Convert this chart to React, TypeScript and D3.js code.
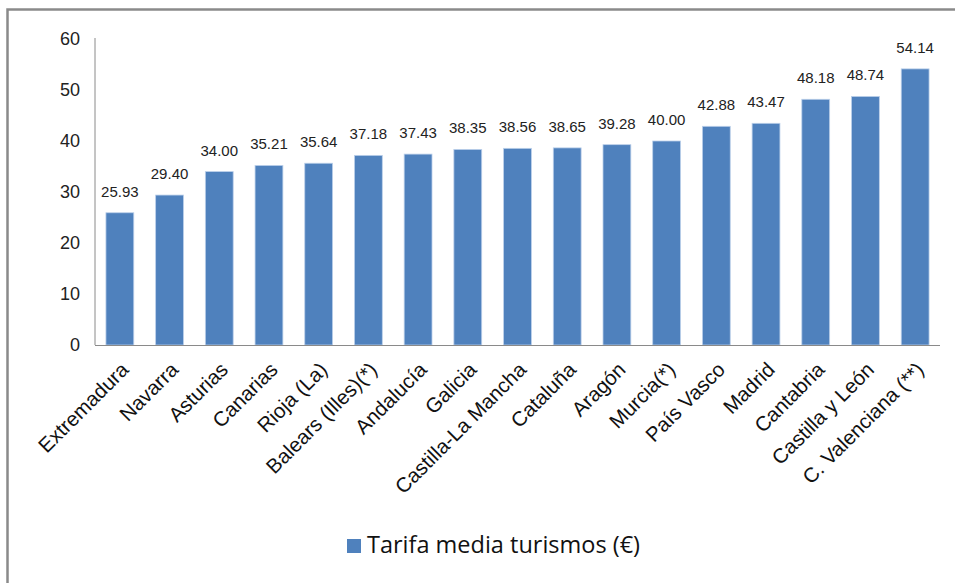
import React from "react";
import * as d3 from "d3";

const categories = [
  "Extremadura", "Navarra", "Asturias", "Canarias", "Rioja (La)", "Balears (Illes)(*)",
  "Andalucía", "Galicia", "Castilla-La Mancha", "Cataluña", "Aragón", "Murcia(*)",
  "País Vasco", "Madrid", "Cantabria", "Castilla y León", "C. Valenciana (**)",
];
const values = [25.93, 29.4, 34.0, 35.21, 35.64, 37.18, 37.43, 38.35, 38.56, 38.65, 39.28, 40.0, 42.88, 43.47, 48.18, 48.74, 54.14];
const yTicks = [0, 10, 20, 30, 40, 50, 60];
const seriesName = "Tarifa media turismos (€)";

const W = 955, H = 583;
const left = 95, right = 940, top = 39, bottom = 345;
const BAR = "#4F81BD";
const FONT = "'Liberation Sans', Arial, sans-serif";

export default function App() {
  const x = d3.scaleBand<string>().domain(categories).range([left, right]).paddingInner(0.44).paddingOuter(0.22);
  const y = d3.scaleLinear().domain([0, 60]).range([bottom, top]);
  return (
    <svg width={W} height={H} style={{ position: "absolute", left: 0, top: 0, background: "#fff" }}>
      <rect x={0} y={0} width={W} height={H} fill="#fff" />
      <path d={`M7.5,${H} V9.5 H${W}`} fill="none" stroke="#8a8a8a" strokeWidth={2.5} />
      {yTicks.map((t) => (
        <text key={t} x={80} y={y(t)} dy="0.35em" textAnchor="end" fontFamily={FONT} fontSize={18} fill="#222">
          {t}
        </text>
      ))}
      {categories.map((c, i) => (
        <g key={c}>
          <rect x={x(c)} y={y(values[i])} width={x.bandwidth()} height={bottom - y(values[i])} fill={BAR} stroke="#bcd0ea" strokeWidth={0.8} />
          <text x={(x(c) as number) + x.bandwidth() / 2} y={y(values[i]) - 16} textAnchor="middle" fontFamily={FONT} fontSize={15} fill="#222">
            {values[i].toFixed(2)}
          </text>
          <text
            transform={`translate(${(x(c) as number) + x.bandwidth() / 2 + 10},${bottom + 26}) rotate(-45)`}
            textAnchor="end"
            fontFamily={FONT}
            fontSize={20.5}
            fill="#111"
          >
            {c}
          </text>
        </g>
      ))}
      <line x1={left} x2={left} y1={top - 1} y2={bottom} stroke="#8a8a8a" strokeWidth={1} />
      <line x1={left} x2={right} y1={bottom + 0.5} y2={bottom + 0.5} stroke="#8a8a8a" strokeWidth={1.2} />
      <rect x={347} y={539} width={14} height={14} fill={BAR} />
      <text x={367} y={553} fontFamily="'Open Sans', 'Noto Sans', sans-serif" fontSize={23.5} fill="#111">
        {seriesName}
      </text>
    </svg>
  );
}
